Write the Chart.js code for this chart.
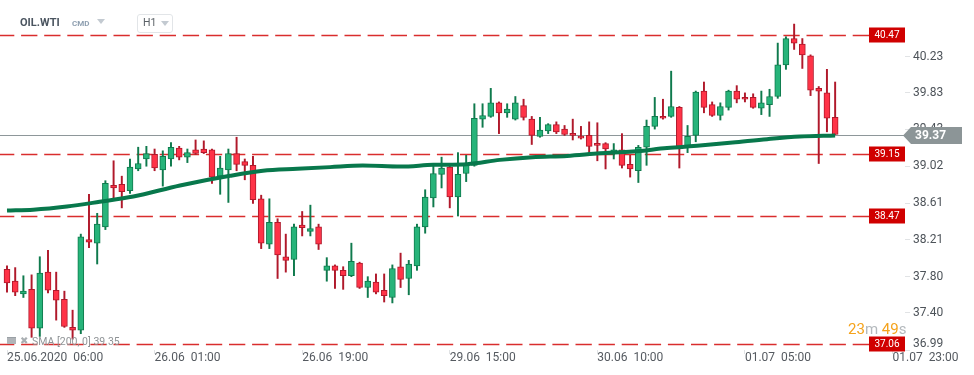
<!DOCTYPE html>
<html><head><meta charset="utf-8">
<script src="https://cdn.jsdelivr.net/npm/chart.js@4.4.1/dist/chart.umd.min.js"></script>
<style>
html,body{margin:0;padding:0;background:#fff;}
#wrap{position:relative;width:974px;height:375px;overflow:hidden;font-family:Roboto,"Noto Sans",sans-serif;}
canvas{position:absolute;left:0;top:0;}
.ov{position:absolute;white-space:pre;line-height:1;}
.tri{position:absolute;width:0;height:0;border-left:4px solid transparent;border-right:4px solid transparent;border-top:5px solid #c3cad1;}
</style></head><body>
<div id="wrap">
<canvas id="c" width="974" height="375"></canvas>
<div class="ov" style="left:20px;top:17px;font-weight:bold;font-size:11px;color:#4b5560;">OIL.WTI</div>
<div class="ov" style="left:72px;top:20px;font-weight:bold;font-size:8px;color:#8e9fb0;">CMD</div>
<div class="tri" style="left:97px;top:19px;"></div>
<div style="position:absolute;left:137px;top:14px;width:34px;height:17px;border:1px solid #e2e5e8;border-radius:3px;"></div>
<div class="ov" style="left:143px;top:18px;font-size:10.5px;color:#5a6066;">H1</div>
<div class="tri" style="left:161px;top:21px;"></div>
<div style="position:absolute;left:7px;top:337px;width:9px;height:6px;background:#b0b4b8;border-top:1px solid #9aa0a5;"></div>
<div class="ov" style="left:20px;top:336px;font-size:10px;color:#a9aeb2;">✖</div>
<div class="ov" style="left:32px;top:337px;font-size:10.5px;color:#8f9396;">SMA [200, 0] 39.35</div>
<div class="ov" style="left:848px;top:322px;font-size:15px;"><span style="color:#f5a31c">23</span><span style="color:#b4b9bd">m</span> <span style="color:#f5a31c">49</span><span style="color:#b4b9bd">s</span></div>
</div>
<script>
// Candles (hourly, slot 0 = 25.06.2020 06:00)
const openP = [37.88,37.75,37.61,37.66,37.23,37.85,37.65,37.55,37.24,37.21,38.21,38.17,38.35,38.81,38.82,38.75,38.99,39.10,39.15,38.98,
39.10,39.22,39.12,39.20,39.21,39.20,38.91,38.98,39.16,39.07,39.03,38.66,38.16,38.40,38.02,37.99,38.37,38.30,38.35,37.87,
37.92,37.87,37.81,37.95,37.68,37.74,37.65,37.57,37.91,37.78,37.92,38.35,38.67,38.93,39.01,38.68,38.94,39.03,39.54,39.57,
39.72,39.61,39.54,39.69,39.54,39.35,39.41,39.48,39.43,39.38,39.35,39.36,39.27,39.27,39.17,39.20,39.04,38.97,39.23,39.46,
39.57,39.57,39.67,39.24,39.36,39.85,39.70,39.58,39.67,39.85,39.78,39.78,39.66,39.70,39.79,40.14,40.43,40.37,40.24,39.88,
39.83,39.56];
const highP = [37.92,37.90,37.81,37.82,38.02,38.09,37.85,37.64,37.43,38.27,38.71,38.50,38.86,39.08,38.91,39.10,39.23,39.24,39.21,39.19,
39.28,39.24,39.21,39.31,39.30,39.21,39.13,39.21,39.34,39.10,39.13,38.70,38.66,38.44,38.27,38.38,38.52,38.59,38.38,38.01,
37.93,37.91,38.17,37.96,37.80,37.83,37.83,37.93,38.06,37.98,38.38,38.76,39.02,39.12,39.02,39.17,39.14,39.71,39.71,39.88,
39.73,39.71,39.79,39.76,39.57,39.56,39.49,39.51,39.47,39.54,39.46,39.51,39.50,39.28,39.27,39.38,39.14,39.25,39.53,39.78,
39.76,40.07,39.68,39.47,39.85,39.95,39.73,39.72,39.86,39.91,39.83,39.82,39.85,39.87,40.38,40.45,40.59,40.43,40.25,39.90,
40.09,39.95];
const lowP = [37.63,37.59,37.57,37.13,37.14,37.62,37.32,37.24,37.11,37.17,38.12,37.94,38.32,38.65,38.56,38.72,38.97,39.02,38.97,38.80,
39.02,39.09,39.06,39.15,39.16,38.83,38.71,38.62,38.97,38.87,38.61,38.11,38.11,37.78,37.85,37.81,38.25,38.25,38.10,37.75,
37.67,37.66,37.80,37.67,37.57,37.61,37.52,37.51,37.68,37.60,37.87,38.28,38.57,38.78,38.56,38.47,38.85,39.02,39.45,39.56,
39.38,39.56,39.53,39.53,39.26,39.34,39.38,39.38,39.36,39.31,39.32,39.16,39.08,38.99,39.10,39.00,38.90,38.84,39.03,39.43,
39.54,39.56,39.00,39.17,39.29,39.61,39.57,39.53,39.64,39.72,39.73,39.66,39.59,39.57,39.77,40.09,40.31,40.10,39.80,39.05,
39.40,39.37];
const closeP = [37.73,37.63,37.64,37.23,37.84,37.65,37.54,37.25,37.21,38.24,38.18,38.38,38.83,38.78,38.74,39.01,39.05,39.16,39.00,39.13,
39.23,39.12,39.17,39.16,39.17,38.90,39.00,39.16,39.04,39.03,38.65,38.17,38.40,38.04,37.98,38.35,38.34,38.33,38.16,37.92,
37.87,37.81,37.97,37.68,37.75,37.63,37.59,37.89,37.77,37.94,38.35,38.68,38.94,39.00,38.68,38.93,39.03,39.55,39.58,39.72,
39.61,39.65,39.72,39.56,39.36,39.42,39.48,39.40,39.37,39.36,39.33,39.24,39.25,39.21,39.20,39.03,38.99,39.23,39.46,39.57,
39.55,39.68,39.24,39.35,39.84,39.67,39.58,39.68,39.85,39.76,39.76,39.67,39.72,39.79,40.14,40.43,40.38,40.25,39.86,39.85,
39.55,39.37];
// SMA(200) read at these candle slots
const smaSlots = [0,3.2,7.3,11.3,15.4,21.1,27.2,31.2,35.4,39.4,43.4,48,52,56.1,60.1,64.1,68.3,72.3,76.3,80.5,84.5,88.5,92.7,96.7,101];
const smaVals  = [38.53,38.54,38.575,38.627,38.685,38.807,38.914,38.969,38.991,39.01,39.027,39.016,39.035,39.043,39.09,39.12,39.134,39.162,39.182,39.22,39.248,39.281,39.319,39.348,39.36];
const levels = [40.47, 39.15, 38.47, 37.06];
const lastPrice = 39.37;
const xTickSlots = [0,18,36,54,72,90,108];
const xTickLabels = ['25.06.2020  06:00','26.06  01:00','26.06  19:00','29.06  15:00','30.06  10:00','01.07  05:00','01.07  23:00'];
const yTickVals = [40.23,39.83,39.43,39.02,38.61,38.21,37.80,37.40,36.99];

const UP_FILL='#27b47a', UP_LINE='#0f7a4d', DN_FILL='#ff3347', DN_LINE='#b0192b';
const up = closeP.map((c,i)=>c>=openP[i]);
const bodyData = openP.map((o,i)=>({x:i,y:[o,closeP[i]]}));
const wickData = lowP.map((l,i)=>({x:i,y:[l,highP[i]]}));
const smaData = smaSlots.map((s,i)=>({x:s,y:smaVals[i]}));

const overlay = {
  id:'overlay',
  beforeDatasetsDraw(chart){
    const {ctx, chartArea:a, scales:{y}} = chart;
    ctx.save();
    ctx.strokeStyle='rgba(212,16,16,0.88)'; ctx.lineWidth=1.3; ctx.setLineDash([16.3,6.8]);
    levels.forEach(v=>{
      const py=Math.round(y.getPixelForValue(v))+0.5;
      ctx.beginPath(); ctx.moveTo(a.right-36,py); ctx.lineTo(a.left,py); ctx.stroke();
    });
    ctx.setLineDash([]);
    ctx.strokeStyle='#8e979a'; ctx.lineWidth=1.2;
    const pp=Math.round(y.getPixelForValue(lastPrice))+0.5;
    ctx.beginPath(); ctx.moveTo(a.left,pp); ctx.lineTo(a.right,pp); ctx.stroke();
    ctx.restore();
  },
  afterDraw(chart){
    const {ctx, chartArea:a, scales:{y}} = chart;
    ctx.save();
    ctx.font='10px Roboto'; ctx.textAlign='center'; ctx.textBaseline='middle';
    levels.forEach(v=>{
      const py=y.getPixelForValue(v);
      ctx.fillStyle='#d00000';
      ctx.fillRect(a.right-36,Math.round(py)-7.5,36,15);
      ctx.fillStyle='#fff';
      ctx.fillText(v.toFixed(2),a.right-18,Math.round(py)+0.5);
    });
    // lowest axis tick label, kept inside the plot height
    ctx.font='12px Roboto'; ctx.textAlign='left'; ctx.fillStyle='#4d5359';
    ctx.fillText(yTickVals[yTickVals.length-1].toFixed(2), a.right+8, y.getPixelForValue(yTickVals[yTickVals.length-1])-6);
    // current price tag
    const pp=Math.round(y.getPixelForValue(lastPrice))+0.5;
    ctx.fillStyle='#8c9597';
    ctx.beginPath();
    ctx.moveTo(a.right-2,pp); ctx.lineTo(a.right+6,pp-8.5); ctx.lineTo(a.right+57,pp-8.5);
    ctx.lineTo(a.right+57,pp+8.5); ctx.lineTo(a.right+6,pp+8.5); ctx.closePath(); ctx.fill();
    ctx.fillStyle='#fff'; ctx.font='bold 12px Roboto'; ctx.textAlign='left';
    ctx.fillText(lastPrice.toFixed(2), a.right+10, pp+0.5);
    ctx.restore();
  }
};

new Chart(document.getElementById('c'), {
  type:'bar',
  data:{datasets:[
    {type:'line', label:'SMA', data:smaData, borderColor:'#08784c', borderWidth:4, pointRadius:0, tension:0.4, cubicInterpolationMode:'monotone', order:1},
    {label:'body', data:bodyData, backgroundColor:up.map(u=>u?UP_FILL:DN_FILL), borderColor:up.map(u=>u?UP_LINE:DN_LINE), borderWidth:1, borderSkipped:false, barThickness:6, minBarLength:2, grouped:false, order:2},
    {label:'wick', data:wickData, backgroundColor:up.map(u=>u?UP_LINE:DN_LINE), borderWidth:0, barThickness:1.3, grouped:false, order:3}
  ]},
  options:{
    responsive:false, animation:false, devicePixelRatio:1,
    layout:{padding:0},
    plugins:{legend:{display:false}, tooltip:{enabled:false}},
    scales:{
      x:{type:'linear', offset:false, min:-0.854, max:109.52, position:'bottom',
        afterFit(s){s.height=25; s.paddingLeft=0; s.paddingRight=0; s.paddingTop=0; s.paddingBottom=0;},
        afterBuildTicks(s){s.ticks=xTickSlots.map(v=>({value:v}));},
        grid:{offset:false, drawOnChartArea:false, tickLength:4, color:'#e1e3e5'},
        border:{display:false},
        ticks:{autoSkip:false, maxRotation:0, minRotation:0, align:'start', padding:-3, color:'#555a60', font:{family:'Roboto', size:12},
          callback(v){const i=xTickSlots.indexOf(v); return i>=0?xTickLabels[i]:'';}}
      },
      y:{type:'linear', position:'right', min:36.99, max:40.856,
        afterFit(s){s.width=69; s.paddingLeft=0; s.paddingRight=0; s.paddingTop=0; s.paddingBottom=0;},
        afterBuildTicks(s){s.ticks=yTickVals.map(v=>({value:v}));},
        grid:{drawOnChartArea:false, tickLength:5, color:'#e1e3e5'},
        border:{display:false},
        ticks:{padding:3, color:'#4d5359', font:{family:'Roboto', size:12},
          callback(v){return v===yTickVals[yTickVals.length-1]?'':v.toFixed(2);}}
      }
    }
  },
  plugins:[overlay]
});
</script>
</body></html>
